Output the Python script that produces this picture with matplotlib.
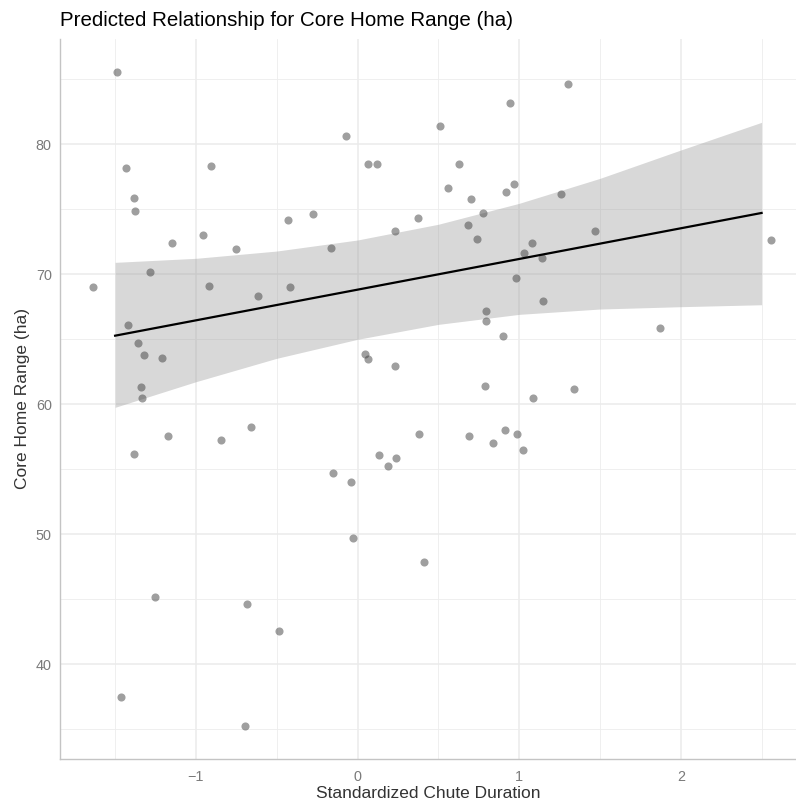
import matplotlib.pyplot as plt
import numpy as np

# observed points
duration = [-1.490, -1.433, -0.907, -1.383, -1.375, -0.428, -0.277, -1.146, -0.958, -0.750,
            -1.284, -1.635, -0.917, -0.416, -0.618, 0.944, 0.511, -0.069, 0.065, 0.121,
            0.628, 0.560, 0.970, 0.919, 0.702, 0.779, 0.376, 0.686, 0.234, 0.739,
            -0.164, 1.080, 1.032, 1.144, 0.979, 1.303, 1.259, 1.470, 2.559, -1.420,
            -1.360, -1.321, -1.210, -1.340, -1.336, -0.657, -1.171, -0.847, -1.385, 1.146,
            0.797, 0.797, 0.900, 0.048, 0.065, 0.230, 0.787, 1.084, 0.379, 0.690,
            0.913, 0.987, 0.841, 1.024, 0.131, 0.238, 0.191, -0.152, -0.042, -0.028,
            1.870, 1.340, 0.413, -1.253, -0.682, -0.488, -1.463, -0.694]
home_range = [85.54, 78.20, 78.35, 75.85, 74.90, 74.20, 74.64, 72.38, 73.00, 71.92,
              70.20, 69.05, 69.10, 69.02, 68.35, 83.15, 81.41, 80.62, 78.51, 78.51,
              78.51, 76.66, 76.95, 76.33, 75.82, 74.72, 74.33, 73.77, 73.33, 72.72,
              72.00, 72.43, 71.66, 71.23, 69.74, 84.62, 76.18, 73.31, 72.64, 66.10,
              64.72, 63.79, 63.54, 61.31, 60.51, 58.28, 57.56, 57.28, 56.20, 67.92,
              67.18, 66.41, 65.28, 63.87, 63.51, 62.95, 61.43, 60.48, 57.71, 57.54,
              58.00, 57.74, 57.05, 56.46, 56.08, 55.89, 55.25, 54.72, 54.00, 49.74,
              65.85, 61.20, 47.87, 45.15, 44.64, 42.56, 37.48, 35.23]

# model prediction and confidence band
pred_x     = [-1.5, -1.0, -0.5, 0.0, 0.5, 1.0, 1.5, 2.0, 2.5]
pred_y     = [65.28, 66.46, 67.64, 68.82, 70.00, 71.18, 72.36, 73.54, 74.72]
pred_lower = [59.77, 61.74, 63.54, 65.00, 66.15, 66.92, 67.33, 67.51, 67.66]
pred_upper = [70.92, 71.23, 71.79, 72.64, 73.85, 75.46, 77.38, 79.56, 81.69]

x_major = [-1, 0, 1, 2]
y_major = [40, 50, 60, 70, 80]

plt.rcParams['font.family'] = ['Liberation Sans', 'DejaVu Sans']

fig = plt.figure(figsize=(7.96, 8.02), dpi=100)
ax = fig.add_axes([60/796, 43/802, 736/796, 720/802])

ax.fill_between(pred_x, pred_lower, pred_upper, color='#999999', alpha=0.38, lw=0, zorder=2)
ax.scatter(duration, home_range, s=34, color='#404040', alpha=0.5, lw=0, zorder=3)
ax.plot(pred_x, pred_y, color='black', lw=1.6, zorder=4)

ax.set_xlim(-1.841, 2.713)
ax.set_ylim(32.72, 88.1)
ax.set_xticks(x_major)
ax.set_xticklabels(['\u22121', '0', '1', '2'])
ax.set_yticks(y_major)
ax.set_xticks(np.arange(-1.5, 3.0, 1.0), minor=True)
ax.set_yticks(np.arange(35, 90, 10), minor=True)

ax.grid(which='major', color='#ebebeb', lw=1.1, zorder=0)
ax.grid(which='minor', color='#ededed', lw=0.6, zorder=0)
ax.set_axisbelow(True)
ax.tick_params(which='both', length=0, labelsize=10.4, labelcolor='#7a7a7a')
ax.tick_params(axis='y', pad=6)
ax.tick_params(axis='x', pad=8)

for side in ['top', 'right']:
    ax.spines[side].set_visible(False)
for side in ['left', 'bottom']:
    ax.spines[side].set_color('#c4c4c4')
    ax.spines[side].set_linewidth(1.0)

ax.set_xlabel('Standardized Chute Duration', fontsize=12.5, color='#333333', labelpad=1)
ax.set_ylabel('Core Home Range (ha)', fontsize=12.5, color='#333333', labelpad=4)
fig.text(60/796, 1 - 20/802, 'Predicted Relationship for Core Home Range (ha)',
         fontsize=14.8, color='black', ha='left', va='center')

fig.savefig('out.png', dpi=100)
